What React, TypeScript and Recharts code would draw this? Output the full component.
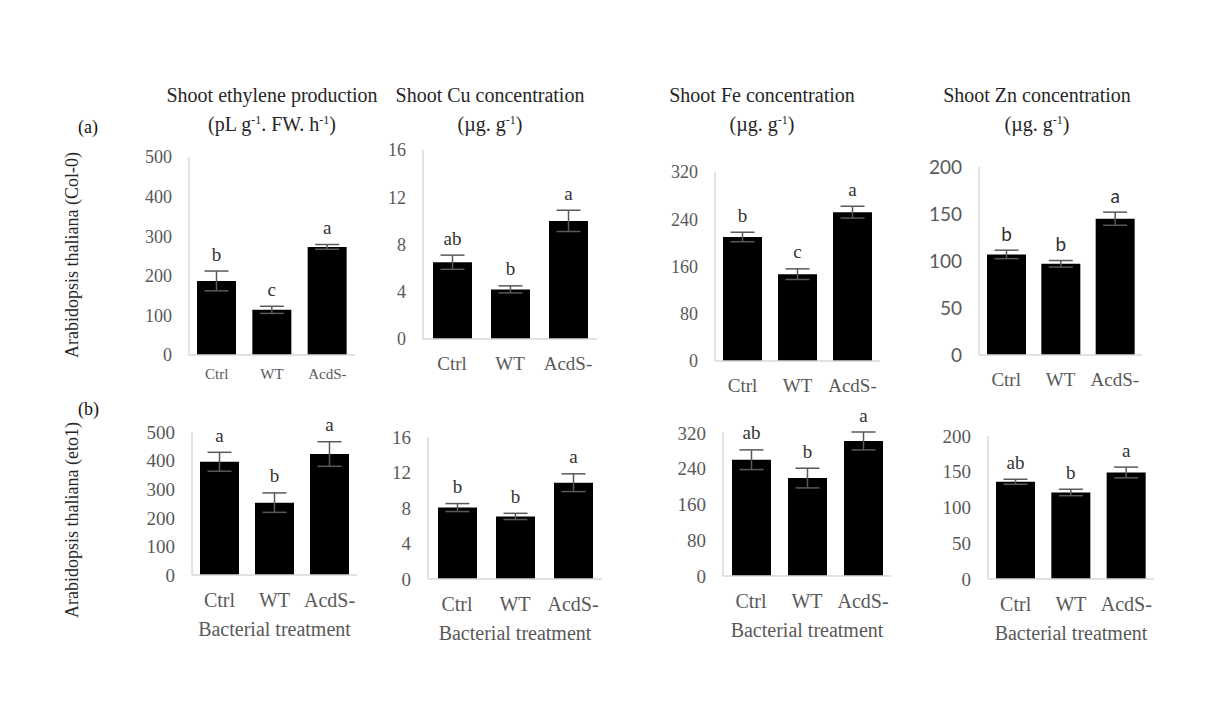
import React from "react";
import { BarChart, Bar, XAxis, YAxis, ErrorBar } from "recharts";

const categories = ["Ctrl", "WT", "AcdS-"];

// row (a): Col-0
const ethyleneCol = [187, 114, 273];
const ethyleneColErr = [25, 9, 6];
const ethyleneColLetters = ["b", "c", "a"];
const cuCol = [6.5, 4.2, 10.0];
const cuColErr = [0.6, 0.3, 0.9];
const cuColLetters = ["ab", "b", "a"];
const feCol = [210, 147, 252];
const feColErr = [8, 9, 10];
const feColLetters = ["b", "c", "a"];
const znCol = [107, 97, 145];
const znColErr = [4.5, 3.5, 7];
const znColLetters = ["b", "b", "a"];

// row (b): eto1
const ethyleneEto = [396, 253, 423];
const ethyleneEtoErr = [33, 34, 43];
const ethyleneEtoLetters = ["a", "b", "a"];
const cuEto = [8.05, 7.05, 10.85];
const cuEtoErr = [0.45, 0.35, 1.0];
const cuEtoLetters = ["b", "b", "a"];
const feEto = [260, 219, 302];
const feEtoErr = [22, 22, 20];
const feEtoLetters = ["ab", "b", "a"];
const znEto = [136, 121, 149];
const znEtoErr = [3.5, 4.5, 7.5];
const znEtoLetters = ["ab", "b", "a"];

const ticksEthylene = [0, 100, 200, 300, 400, 500];
const ticksCu = [0, 4, 8, 12, 16];
const ticksFe = [0, 80, 160, 240, 320];
const ticksZn = [0, 50, 100, 150, 200];

const SERIF = "'Liberation Serif', 'Times New Roman', serif";
const SANS = "Lato, 'Open Sans', sans-serif";
const GRID = "#d9d9d9";
const TICK = "#595959";

function Panel({ values, errs, letters, ticks, left, right, top, bottom, yFont, xFont, yFamily = SERIF, letterFamily = SERIF, xMargin = 12, footer = false }: any) {
  const data = categories.map((c, i) => ({ name: c, value: values[i], err: errs[i], letter: letters[i] }));
  const yW = 60;
  const mTop = 50;
  const xH = 44;
  const width = yW + (right - left) + 4;
  const height = mTop + (bottom - top) + xH;

  const renderLetter = (props: any) => {
    const x = Number(props.x);
    const y = Number(props.y);
    const w = Number(props.width);
    const h = Number(props.height);
    let idx = props.index;
    if (idx === undefined) idx = data.findIndex((d) => d.value === props.value);
    const d = data[idx];
    if (!d) return null;
    const errPx = d.value ? (d.err * h) / d.value : 0;
    return (
      <text
        x={x + w / 2}
        y={y - errPx - 17}
        textAnchor="middle"
        dominantBaseline="central"
        fontSize={19}
        fontFamily={letterFamily}
        fill="#333"
      >
        {d.letter}
      </text>
    );
  };

  return (
    <div style={{ position: "absolute", left: left - yW, top: top - mTop }}>
      <BarChart width={width} height={height} data={data} margin={{ top: mTop, right: 4, left: 0, bottom: 0 }}>
        <XAxis
          dataKey="name"
          height={xH}
          axisLine={{ stroke: GRID, strokeWidth: 1.5 }}
          tickLine={false}
          tickMargin={xMargin}
          tick={{ fill: TICK, fontSize: xFont, fontFamily: SERIF }}
          interval={0}
        />
        <YAxis
          width={yW}
          domain={[0, ticks[ticks.length - 1]]}
          ticks={ticks}
          interval={0}
          axisLine={{ stroke: GRID, strokeWidth: 1.5 }}
          tickLine={false}
          tickMargin={11}
          tick={{ fill: TICK, fontSize: yFont, fontFamily: yFamily }}
        />
        <Bar dataKey="value" fill="#000" barSize={39} isAnimationActive={false} label={renderLetter}>
          <ErrorBar dataKey="err" width={12} stroke={TICK} strokeWidth={1.5} isAnimationActive={false} />
        </Bar>
      </BarChart>
      {footer && (
        <div
          style={{
            position: "absolute",
            left: yW,
            width: right - left,
            top: mTop + (bottom - top) + 43,
            textAlign: "center",
            fontFamily: SERIF,
            fontSize: 20,
            color: TICK,
            whiteSpace: "nowrap",
          }}
        >
          Bacterial treatment
        </div>
      )}
    </div>
  );
}

const sup = (s: string) => <span style={{ fontSize: "0.6em", verticalAlign: "0.6em" }}>{s}</span>;

function Title({ cx, line1, line2 }: any) {
  return (
    <div
      style={{
        position: "absolute",
        left: cx - 150,
        width: 300,
        top: 83,
        textAlign: "center",
        fontFamily: SERIF,
        fontSize: 20,
        lineHeight: "25px",
        color: "#262626",
      }}
    >
      <div>{line1}</div>
      <div>{line2}</div>
    </div>
  );
}

function RowLabel({ cx, cy, text }: any) {
  return (
    <div
      style={{
        position: "absolute",
        left: cx,
        top: cy,
        transform: "translate(-50%, -50%) rotate(-90deg)",
        fontFamily: SERIF,
        fontSize: 18,
        color: "#262626",
        whiteSpace: "nowrap",
      }}
    >
      {text}
    </div>
  );
}

export default function App() {
  return (
    <div style={{ position: "absolute", left: 0, top: 0, width: 1205, height: 706, background: "#fff", overflow: "hidden" }}>
      <Title cx={272} line1="Shoot ethylene production" line2={<>(pL g{sup("-1")}. FW. h{sup("-1")})</>} />
      <Title cx={490} line1="Shoot Cu concentration" line2={<>(µg. g{sup("-1")})</>} />
      <Title cx={762} line1="Shoot Fe concentration" line2={<>(µg. g{sup("-1")})</>} />
      <Title cx={1037} line1="Shoot Zn concentration" line2={<>(µg. g{sup("-1")})</>} />

      <div style={{ position: "absolute", left: 78, top: 117, fontFamily: SERIF, fontSize: 18, color: "#111" }}>(a)</div>
      <div style={{ position: "absolute", left: 78, top: 399, fontFamily: SERIF, fontSize: 18, color: "#111" }}>(b)</div>
      <RowLabel cx={72} cy={255} text="Arabidopsis thaliana (Col-0)" />
      <RowLabel cx={72} cy={520} text="Arabidopsis thaliana (eto1)" />

      <Panel values={ethyleneCol} errs={ethyleneColErr} letters={ethyleneColLetters} ticks={ticksEthylene}
        left={189} right={355} top={157} bottom={355} yFont={18} xFont={15} xMargin={7} />
      <Panel values={cuCol} errs={cuColErr} letters={cuColLetters} ticks={ticksCu}
        left={423} right={597} top={150} bottom={339} yFont={18} xFont={19} />
      <Panel values={feCol} errs={feColErr} letters={feColLetters} ticks={ticksFe}
        left={715} right={880} top={172} bottom={361} yFont={18} xFont={19} />
      <Panel values={znCol} errs={znColErr} letters={znColLetters} ticks={ticksZn}
        left={979} right={1142} top={167} bottom={355} yFont={19} xFont={19} yFamily={SANS} letterFamily={SANS} />

      <Panel values={ethyleneEto} errs={ethyleneEtoErr} letters={ethyleneEtoLetters} ticks={ticksEthylene}
        left={192} right={357} top={432} bottom={575} yFont={19} xFont={20} footer />
      <Panel values={cuEto} errs={cuEtoErr} letters={cuEtoLetters} ticks={ticksCu}
        left={428} right={602} top={437} bottom={579} yFont={19} xFont={20} footer />
      <Panel values={feEto} errs={feEtoErr} letters={feEtoLetters} ticks={ticksFe}
        left={723} right={891} top={432} bottom={576} yFont={19} xFont={20} footer />
      <Panel values={znEto} errs={znEtoErr} letters={znEtoLetters} ticks={ticksZn}
        left={988} right={1154} top={436} bottom={579} yFont={19} xFont={20} footer />
    </div>
  );
}
